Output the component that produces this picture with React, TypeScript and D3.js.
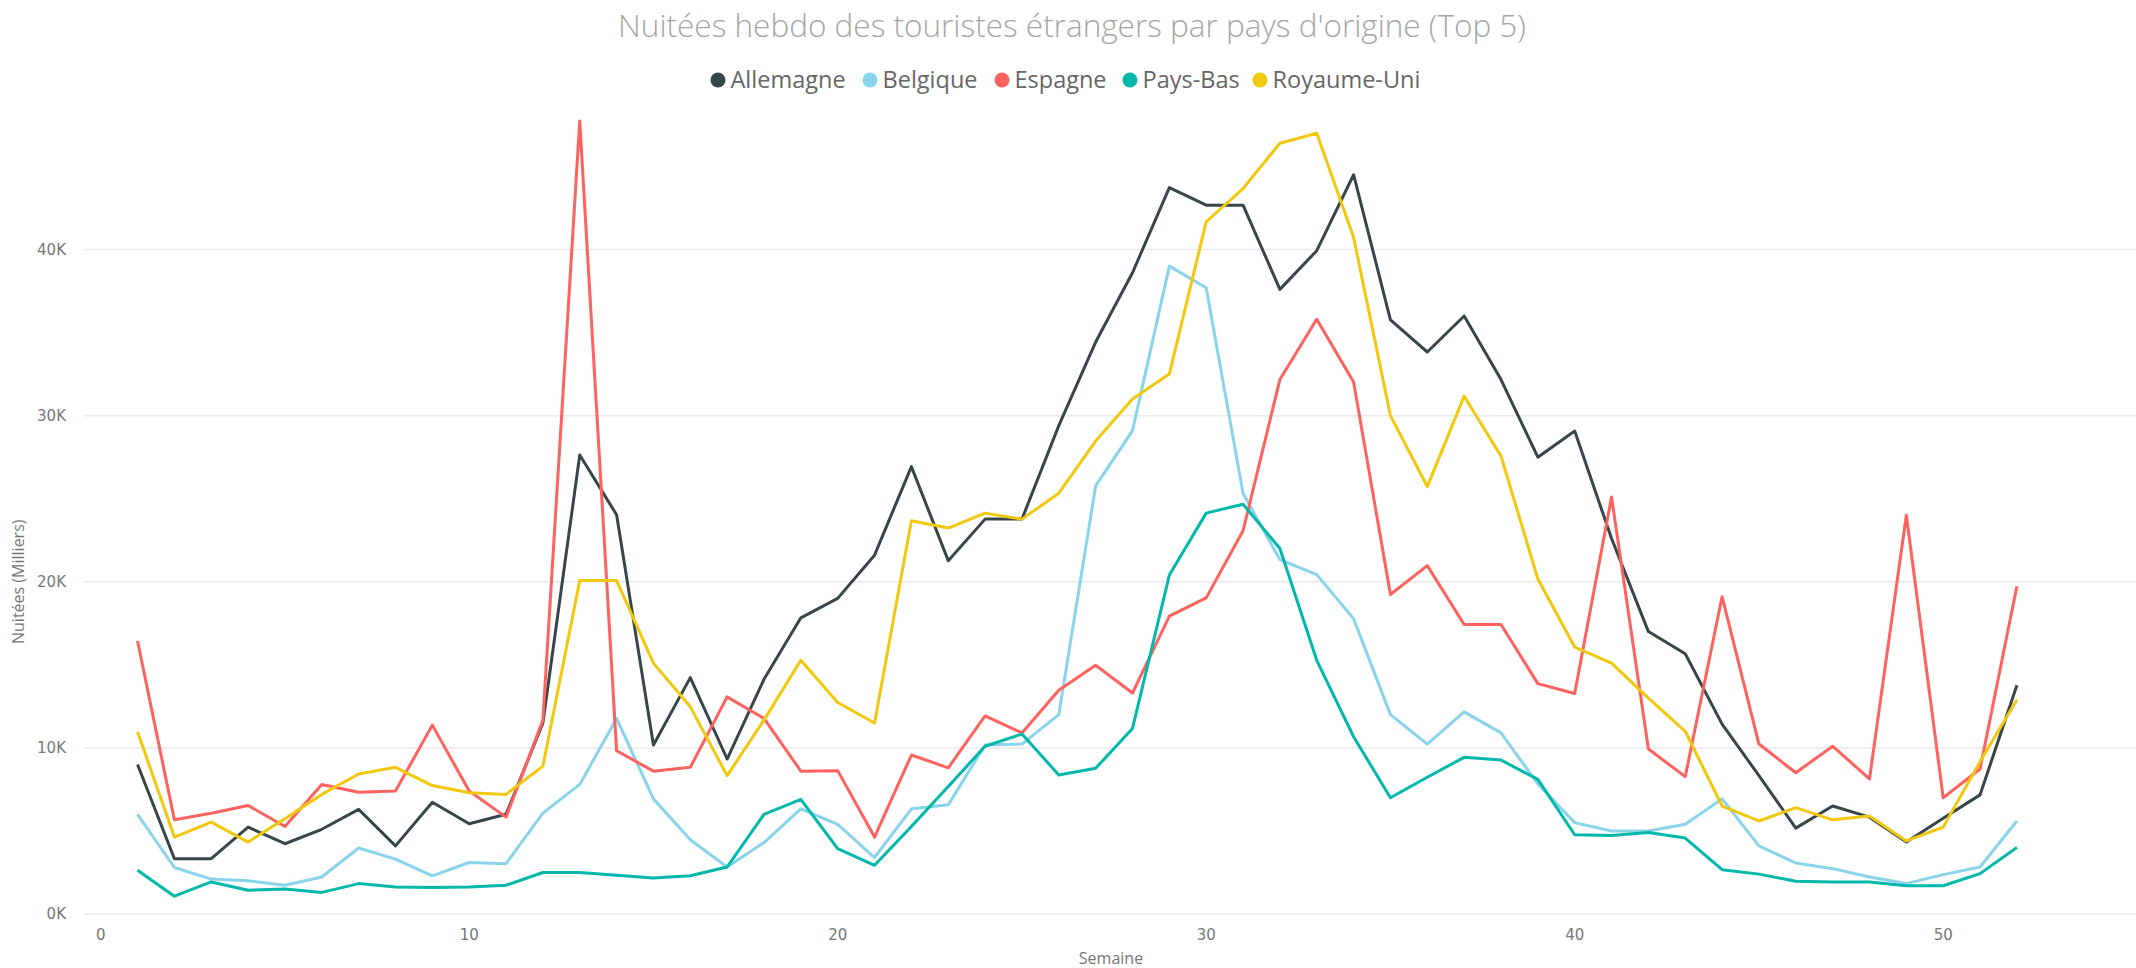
import React from 'react'
import * as d3 from 'd3'

const width = 2136
const height = 968

const title = "Nuitées hebdo des touristes étrangers par pays d'origine (Top 5)"
const countries = ['Allemagne', 'Belgique', 'Espagne', 'Pays-Bas', 'Royaume-Uni']
const colors = ['#374649', '#8AD4EB', '#FD625E', '#01B8AA', '#F2C80F']
const weeks = d3.range(1, 53)
const yTicks = [0, 10000, 20000, 30000, 40000]
const xTicks = [0, 10, 20, 30, 40, 50]

// nuitées en milliers, semaines 1 à 52
const allemagne = [9.0, 3.33, 3.33, 5.23, 4.23, 5.1, 6.3, 4.1, 6.73, 5.43, 6.0, 11.5, 27.63, 24.03, 10.17, 14.23, 9.33, 14.13, 17.83, 19.0, 21.6, 26.93, 21.27, 23.77, 23.77, 29.4, 34.43, 38.6, 43.73, 42.67, 42.67, 37.6, 39.93, 44.5, 35.77, 33.83, 36.0, 32.17, 27.5, 29.07, 22.6, 17.0, 15.67, 11.43, 8.33, 5.17, 6.5, 5.83, 4.33, 5.77, 7.17, 13.77]
const belgique = [6.0, 2.8, 2.1, 2.0, 1.73, 2.23, 3.97, 3.3, 2.3, 3.1, 3.03, 6.07, 7.8, 11.77, 6.93, 4.47, 2.83, 4.3, 6.33, 5.4, 3.4, 6.33, 6.57, 10.17, 10.23, 12.0, 25.77, 29.1, 39.0, 37.7, 25.33, 21.33, 20.43, 17.77, 12.0, 10.23, 12.17, 10.9, 7.83, 5.5, 5.0, 5.0, 5.4, 6.93, 4.1, 3.07, 2.73, 2.23, 1.83, 2.37, 2.83, 5.6]
const espagne = [16.43, 5.67, 6.07, 6.53, 5.27, 7.8, 7.33, 7.4, 11.37, 7.4, 5.83, 11.67, 47.73, 9.83, 8.6, 8.83, 13.07, 11.77, 8.6, 8.63, 4.63, 9.57, 8.8, 11.93, 10.9, 13.47, 14.97, 13.3, 17.93, 19.03, 23.07, 32.17, 35.8, 32.03, 19.23, 20.97, 17.43, 17.43, 13.87, 13.27, 25.1, 9.93, 8.27, 19.1, 10.23, 8.5, 10.1, 8.13, 24.0, 7.0, 8.73, 19.73]
const paysBas = [2.63, 1.07, 1.93, 1.43, 1.5, 1.3, 1.83, 1.63, 1.6, 1.63, 1.73, 2.5, 2.5, 2.33, 2.17, 2.3, 2.83, 6.0, 6.9, 3.93, 2.93, 5.27, 7.67, 10.1, 10.83, 8.37, 8.77, 11.17, 20.4, 24.13, 24.67, 22.0, 15.27, 10.67, 7.0, 8.23, 9.43, 9.27, 8.1, 4.77, 4.73, 4.9, 4.57, 2.67, 2.4, 1.97, 1.93, 1.93, 1.7, 1.7, 2.43, 4.0]
const royaumeUni = [10.97, 4.63, 5.53, 4.33, 5.73, 7.2, 8.43, 8.83, 7.73, 7.3, 7.2, 8.9, 20.07, 20.07, 15.1, 12.47, 8.33, 11.67, 15.27, 12.73, 11.5, 23.67, 23.23, 24.13, 23.77, 25.33, 28.47, 31.0, 32.5, 41.67, 43.67, 46.4, 47.0, 40.73, 30.0, 25.73, 31.17, 27.57, 20.17, 16.07, 15.1, 13.0, 11.0, 6.5, 5.6, 6.4, 5.67, 5.9, 4.4, 5.23, 9.17, 12.9]

const seriesValues = [allemagne, belgique, espagne, paysBas, royaumeUni]

const x = d3.scaleLinear().domain([0, 55]).range([100.7, 100.7 + 55 * 36.85])
const y = d3.scaleLinear().domain([0, 40000]).range([914, 249.5])

const line = d3
    .line<number>()
    .x((d, i) => x(weeks[i]))
    .y((d) => y(d * 1000))

const fmtK = (v: number) => `${v / 1000}K`

// legend circle centres
const legendX = [718, 870, 1002, 1130, 1260]

export default function App() {
    return (
        <div style={{ position: 'absolute', left: 0, top: 0 }}>
            <svg width={width} height={height} style={{ display: 'block', background: '#fff' }}>
                <text
                    x={1072}
                    y={37}
                    textAnchor="middle"
                    style={{ fontFamily: 'Open Sans', fontWeight: 300, fontSize: '31.5px', fill: '#a6a6a6' }}
                >
                    {title}
                </text>
                <g>
                    {countries.map((c, i) => (
                        <g key={c}>
                            <circle cx={legendX[i]} cy={80} r={7.5} fill={colors[i]} />
                            <text
                                x={legendX[i] + 12.5}
                                y={80}
                                dy="0.35em"
                                style={{ fontFamily: 'Open Sans', fontSize: '23.5px', fill: '#666' }}
                            >
                                {c}
                            </text>
                        </g>
                    ))}
                </g>
                <g>
                    {yTicks.map((t) => (
                        <g key={t}>
                            <line x1={84} x2={width} y1={y(t)} y2={y(t)} stroke="#eaeaea" strokeWidth={1.5} />
                            <text
                                x={66}
                                y={y(t)}
                                dy="0.35em"
                                textAnchor="end"
                                style={{ fontFamily: 'DejaVu Sans', fontSize: '15px', fill: '#777' }}
                            >
                                {fmtK(t)}
                            </text>
                        </g>
                    ))}
                </g>
                <g>
                    {xTicks.map((t) => (
                        <text
                            key={t}
                            x={x(t)}
                            y={940}
                            textAnchor="middle"
                            style={{ fontFamily: 'DejaVu Sans', fontSize: '15px', fill: '#777' }}
                        >
                            {t}
                        </text>
                    ))}
                </g>
                <text
                    x={1111}
                    y={964}
                    textAnchor="middle"
                    style={{ fontFamily: 'Open Sans', fontSize: '16px', fill: '#777' }}
                >
                    Semaine
                </text>
                <text
                    transform={`translate(24, ${(y(0) + y(40000)) / 2}) rotate(-90)`}
                    textAnchor="middle"
                    style={{ fontFamily: 'Open Sans', fontSize: '16px', fill: '#777' }}
                >
                    Nuitées (Milliers)
                </text>
                <g fill="none" strokeWidth={3} strokeLinejoin="round">
                    {seriesValues.map((vals, i) => (
                        <path key={countries[i]} d={line(vals) || ''} stroke={colors[i]} />
                    ))}
                </g>
            </svg>
        </div>
    )
}
